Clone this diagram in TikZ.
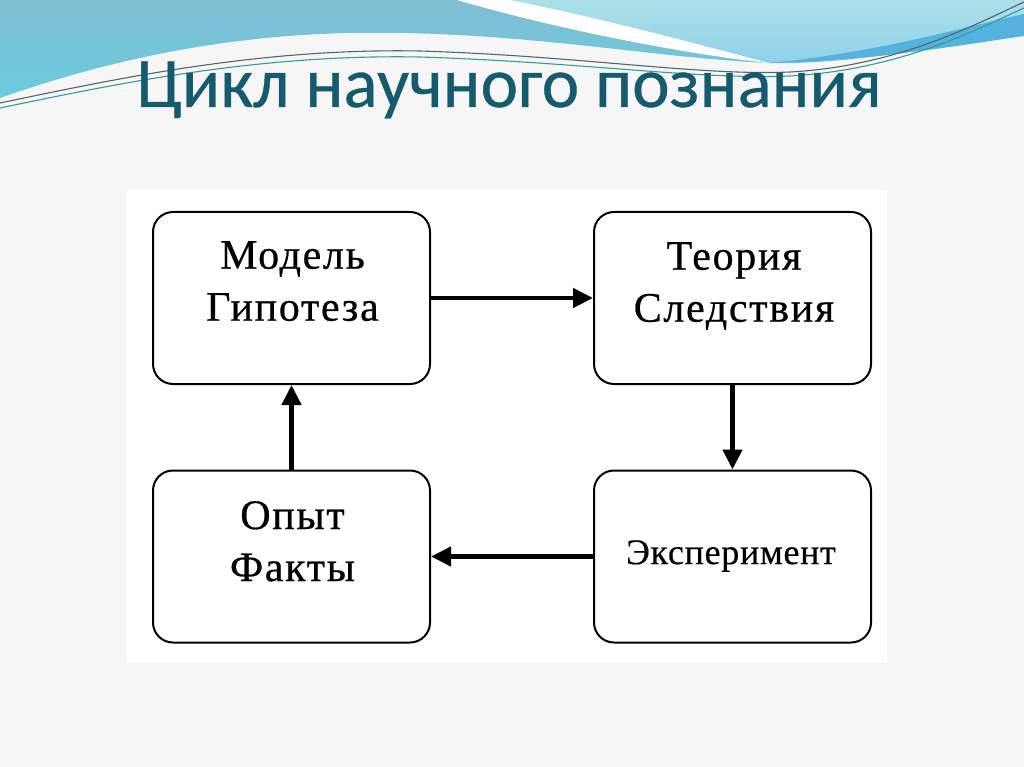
\documentclass[tikz,border=0pt]{standalone}
\usepackage{fontspec}
\setmainfont{Liberation Serif}
\newfontfamily\boxfont[FakeBold=0.6,LetterSpace=4]{Liberation Serif}
\newfontfamily\expfont[FakeBold=0.4,LetterSpace=2]{Liberation Serif}
\newfontfamily\titlefont[FakeBold=0.5]{Carlito}
\usetikzlibrary{arrows.meta}
\definecolor{bgcol}{HTML}{F6F6F6}
\definecolor{bluetop}{HTML}{80BED4}
\definecolor{bluebot}{HTML}{6ACBDD}
\definecolor{lighttop}{HTML}{ACE0E8}
\definecolor{lightbot}{HTML}{90D2EA}
\definecolor{ribbon}{HTML}{55B1DD}
\definecolor{thinA}{HTML}{56646E}
\definecolor{thinB}{HTML}{2E9E96}
\definecolor{titlecol}{RGB}{22,90,110}
\tikzset{
  box/.style={draw=black, line width=2pt, rounded corners=20pt, minimum width=277pt, minimum height=172pt, inner sep=0pt, fill=white},
  boxtext/.style={font=\boxfont\fontsize{42}{52}\selectfont, align=center, inner sep=0pt, anchor=north},
  arr/.style={line width=4.5pt, -{Triangle[length=20pt,width=19pt]}},
  titlestyle/.style={font=\titlefont\fontsize{71}{80}\selectfont, text=titlecol, inner sep=0pt, anchor=base}
}
\begin{document}
\begin{tikzpicture}[x=1pt,y=-1pt]
\useasboundingbox (0,0) rectangle (1024,767);
\fill[bgcol] (0,0) rectangle (1024,767);
% main blue wave
\shade[top color=bluetop, bottom color=bluebot]
  (0,0) -- (1024,0) -- (1024,33)
  .. controls (950,45) and (850,65) .. (770,63)
  .. controls (650,58) and (520,30) .. (350,33)
  .. controls (200,36) and (80,70) .. (0,98) -- cycle;
% light region upper right
\shade[top color=lighttop, bottom color=lightbot]
  (510,0) .. controls (600,18) and (690,42) .. (770,62)
  .. controls (850,62) and (950,45) .. (1024,33) -- (1024,0) -- cycle;
% white swoosh
\fill[white] (457,0) .. controls (560,30) and (690,55) .. (770,63)
  .. controls (690,42) and (600,18) .. (510,0) -- cycle;
% ribbon
\fill[ribbon] (770,63) .. controls (880,60) and (960,45) .. (1024,36)
  -- (1024,14) .. controls (960,28) and (880,52) .. (770,63) -- cycle;
% thin lines
\draw[thinA, line width=1.1pt] (0,103) .. controls (120,78) and (260,48) .. (420,51)
  .. controls (580,56) and (700,76) .. (790,72) .. controls (900,66) and (980,22) .. (1024,2);
\draw[thinB, line width=1.1pt] (0,108) .. controls (120,83) and (260,54) .. (420,57)
  .. controls (580,62) and (700,80) .. (790,76) .. controls (900,70) and (980,28) .. (1024,8);
% title
\node[titlestyle] (title) at (509,107) {Цикл научного познания};
% diagram area
\fill[white] (127,190) rectangle (887,663);
% boxes
\node[box] (tl) at (291.5,298) {};
\node[box] (tr) at (732.5,298) {};
\node[box] (bl) at (291.5,556.5) {};
\node[box] (br) at (732.5,556.5) {};
% texts
\node[boxtext] (tlt) at (292.5,241) {Модель\\Гипотеза};
\node[boxtext] (trt) at (734,242) {Теория\\Следствия};
\node[boxtext] (blt) at (292.5,501) {Опыт\\Факты};
\node[font=\expfont\fontsize{36}{40}\selectfont, inner sep=0pt] (brt) at (731,556) {Эксперимент};
% arrows
\draw[arr] (tl.east) -- (tr.west);
\draw[arr] (tr.south) -- (br.north);
\draw[arr] (br.west) -- (bl.east);
\draw[arr] (bl.north) -- (tl.south);
\end{tikzpicture}
\end{document}
